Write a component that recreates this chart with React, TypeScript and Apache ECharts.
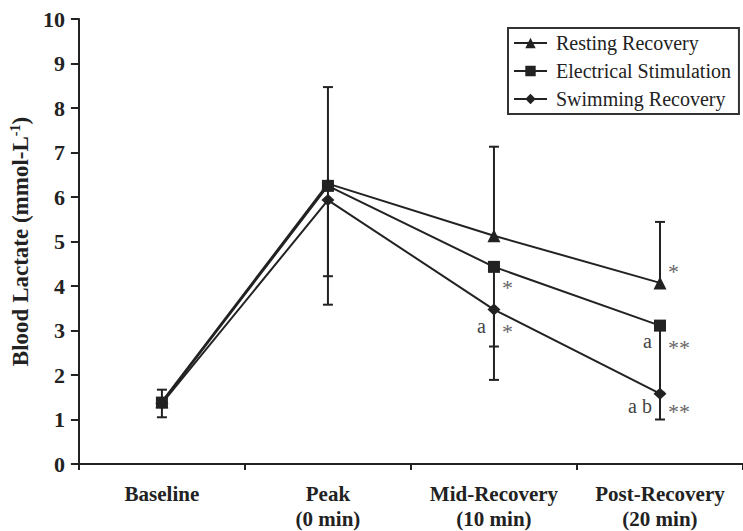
import React, { useEffect, useRef } from "react";
import * as echarts from "echarts";

const categories = ["Baseline", "Peak\n(0 min)", "Mid-Recovery\n(10 min)", "Post-Recovery\n(20 min)"];
const seriesNames = ["Resting Recovery", "Electrical Stimulation", "Swimming Recovery"];
const restingValues = [1.4, 6.3, 5.13, 4.07];
const electricalValues = [1.38, 6.25, 4.43, 3.11];
const swimmingValues = [1.36, 5.93, 3.47, 1.58];

// error bar ends (null = no bar drawn)
const restingUpper = [null, 8.47, 7.13, 5.44];
const electricalUpper = [1.67, null, null, null];
const electricalLower = [1.05, 4.22, 2.64, 1.6];
const swimmingLower = [null, 3.58, 1.89, 1.0];

const yTicks = { min: 0, max: 10, interval: 1 };

// significance annotations: category index, value, text, side of the bar
const annotations: [number, number, string, string][] = [
  [2, 4.09, "*", "right"],
  [2, 3.11, "a", "left"],
  [2, 3.11, "*", "right"],
  [3, 4.47, "*", "right"],
  [3, 2.76, "a", "left"],
  [3, 2.76, "**", "right"],
  [3, 1.31, "a b", "left"],
  [3, 1.31, "**", "right"],
];

const FONT = "'Liberation Serif', 'Times New Roman', serif";
const INK = "#222";

export default function App() {
  const ref = useRef<HTMLDivElement>(null);
  useEffect(() => {
    if (!ref.current) return;
    const chart = echarts.init(ref.current, null, { renderer: "svg" });

    const bars: [number, number, number][] = [];
    const addBars = (vals: number[], ends: (number | null)[]) => {
      ends.forEach((e, i) => {
        if (e !== null) bars.push([i, vals[i], e]);
      });
    };
    addBars(restingValues, restingUpper);
    addBars(electricalValues, electricalUpper);
    addBars(electricalValues, electricalLower);
    addBars(swimmingValues, swimmingLower);

    const lineSeries = (name: string, data: number[], symbol: string, size: any) => ({
      name,
      type: "line",
      data,
      symbol,
      symbolSize: size,
      z: 5,
      itemStyle: { color: INK },
      lineStyle: { color: INK, width: 2 },
    });

    chart.setOption({
      animation: false,
      grid: { left: 76, top: 19, height: 450, width: 676 },
      legend: {
        orient: "vertical",
        left: 508,
        top: 28,
        padding: [5, 8, 5, 5],
        itemGap: 8,
        itemWidth: 33,
        itemHeight: 13,
        borderColor: "#333",
        borderWidth: 2,
        textStyle: { fontSize: 20, fontFamily: FONT, color: INK, padding: [0, 0, 0, 4] },
        data: seriesNames,
      },
      xAxis: {
        type: "category",
        data: categories,
        boundaryGap: true,
        axisLine: { lineStyle: { color: INK, width: 2 } },
        axisTick: { show: true, interval: 0, length: 6, lineStyle: { color: INK, width: 2 } },
        axisLabel: {
          interval: 0,
          hideOverlap: false,
          color: INK,
          fontFamily: FONT,
          fontWeight: "bold",
          fontSize: 21,
          lineHeight: 25,
          margin: 17,
        },
      },
      yAxis: {
        type: "value",
        min: yTicks.min,
        max: yTicks.max,
        interval: yTicks.interval,
        splitLine: { show: false },
        axisLine: { show: true, lineStyle: { color: INK, width: 2 } },
        axisTick: { show: true, length: 8, lineStyle: { color: INK, width: 2 } },
        axisLabel: { color: INK, fontFamily: FONT, fontWeight: "bold", fontSize: 22, margin: 14 },
        name: "{t|Blood Lactate (mmol-L}{s|-1}{t|)}",
        nameLocation: "middle",
        nameGap: 39,
        nameTextStyle: {
          rich: {
            t: { fontFamily: FONT, fontWeight: "bold", fontSize: 23, color: INK, lineHeight: 25 },
            s: { fontFamily: FONT, fontWeight: "bold", fontSize: 14, color: INK, verticalAlign: "top", lineHeight: 25 },
          },
        },
      },
      series: [
        {
          type: "custom",
          z: 3,
          silent: true,
          data: bars,
          renderItem: (_p: any, api: any) => {
            const a = api.coord([api.value(0), api.value(1)]);
            const b = api.coord([api.value(0), api.value(2)]);
            const st = { stroke: INK, lineWidth: 2 };
            return {
              type: "group",
              children: [
                { type: "line", shape: { x1: a[0], y1: a[1], x2: b[0], y2: b[1] }, style: st },
                { type: "line", shape: { x1: b[0] - 5, y1: b[1], x2: b[0] + 5, y2: b[1] }, style: st },
              ],
            };
          },
        },
        lineSeries(seriesNames[0], restingValues, "triangle", 13),
        lineSeries(seriesNames[1], electricalValues, "rect", 12),
        lineSeries(seriesNames[2], swimmingValues, "diamond", [13, 12]),
        {
          type: "custom",
          z: 6,
          silent: true,
          data: annotations.map((a) => [a[0], a[1]]),
          renderItem: (p: any, api: any) => {
            const ann = annotations[p.dataIndex];
            const c = api.coord([api.value(0), api.value(1)]);
            const right = ann[3] === "right";
            const isStar = ann[2].indexOf("*") >= 0;
            return {
              type: "text",
              x: right ? c[0] + 8 : c[0] - 8,
              y: isStar ? c[1] + 6 : c[1],
              style: {
                text: ann[2],
                fill: isStar ? "#666" : "#444",
                font: isStar ? `22px ${FONT}` : `20px ${FONT}`,
                align: right ? "left" : "right",
                verticalAlign: "middle",
              },
            };
          },
        },
      ],
    });
    return () => chart.dispose();
  }, []);
  return <div ref={ref} style={{ position: "absolute", left: 0, top: 0, width: 743, height: 531 }} />;
}
